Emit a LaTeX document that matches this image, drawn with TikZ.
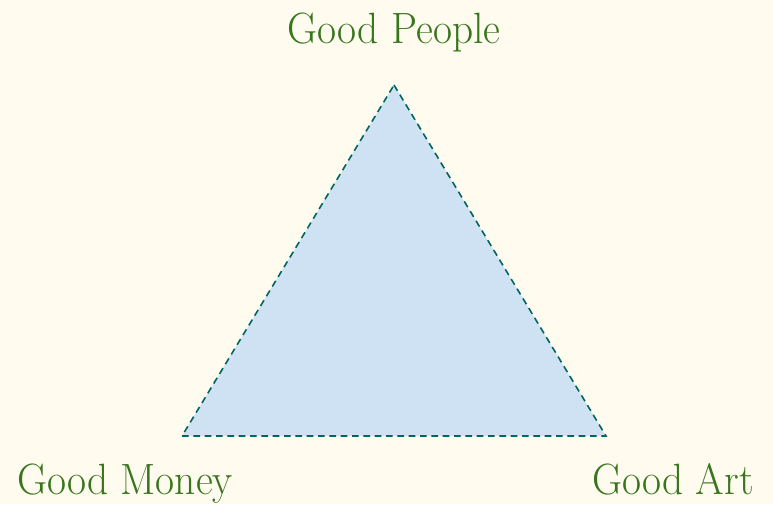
\documentclass[tikz,border=0pt]{standalone}
\usepackage{graphicx}
\definecolor{bgc}{HTML}{FFFBEF}
\definecolor{fillc}{HTML}{CFE2F3}
\definecolor{linec}{HTML}{00665E}
\definecolor{textc}{HTML}{38761D}
\newcommand{\tallt}[1]{\scalebox{1}[1.06]{#1}}
\begin{document}
\begin{tikzpicture}[x=0.75pt,y=-0.75pt,
  lbl/.style={text=textc,font=\fontsize{31}{37}\selectfont,anchor=base,inner sep=0pt},
  tri/.style={fill=fillc,draw=linec,dashed,line width=1.2pt,dash pattern=on 5pt off 3.5pt}]
\fill[bgc] (0,0) rectangle (773,504);
\useasboundingbox (0,0) rectangle (773,504);
\coordinate (T) at (394,85);
\coordinate (L) at (182,436);
\coordinate (R) at (606,436);
\draw[tri] (T) -- (R) -- (L) -- cycle;
\node[lbl] (p) at (394,43) {\tallt{Good People}};
\node[lbl] (m) at (125,494) {\tallt{Good Money}};
\node[lbl] (a) at (673,494) {\tallt{Good Art}};
\end{tikzpicture}
\end{document}
